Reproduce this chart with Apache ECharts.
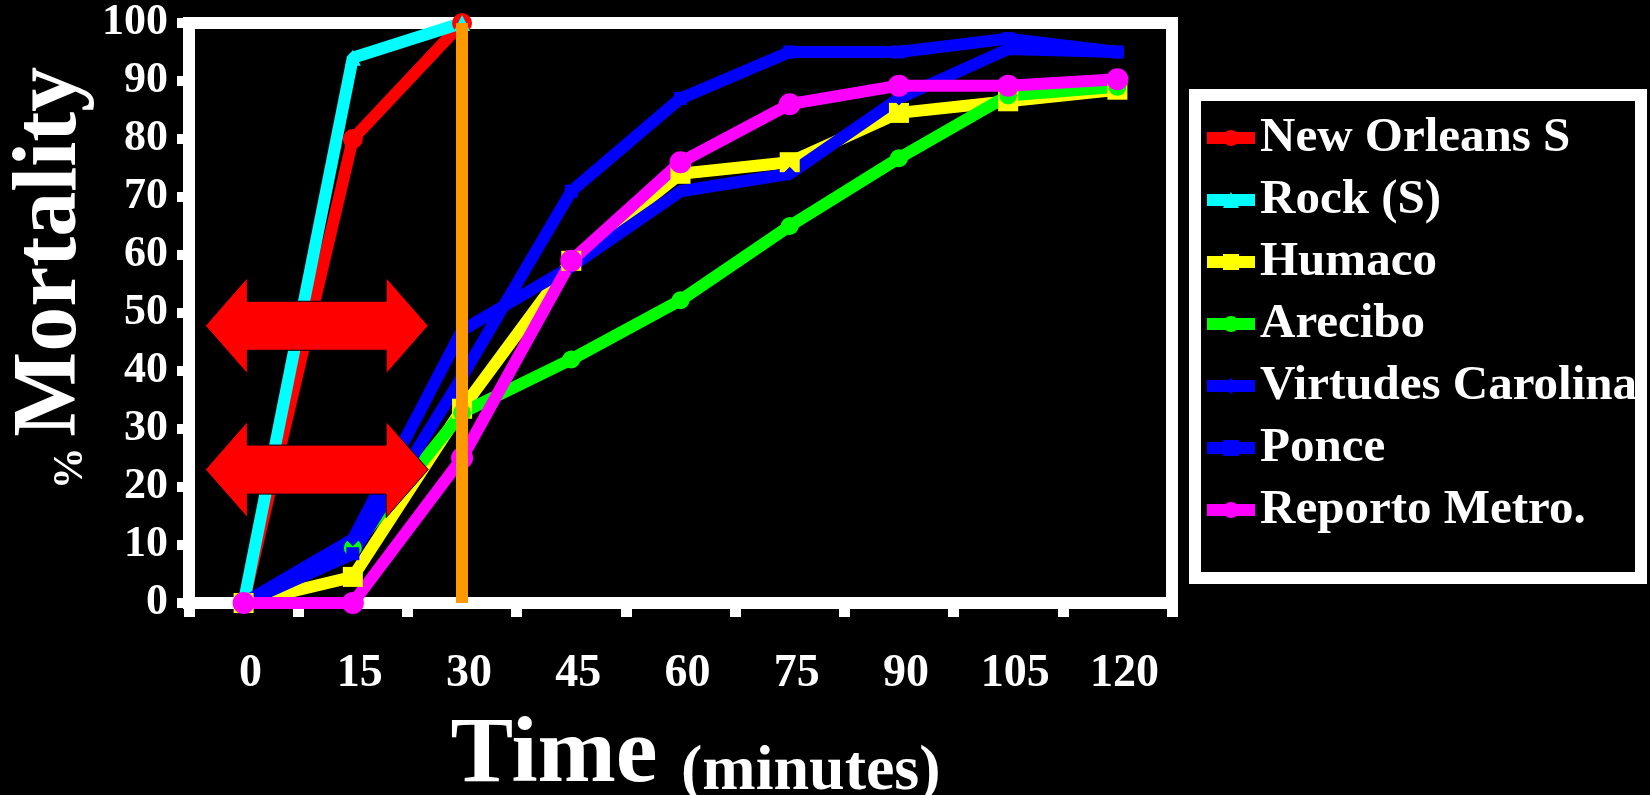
<!DOCTYPE html>
<html lang="en">
<head>
    <meta charset="UTF-8">
    <title>% Mortality vs Time</title>
    <script src="https://cdn.jsdelivr.net/npm/echarts/dist/echarts.min.js"></script>
    <style>
        html, body { margin: 0; padding: 0; background: #000; }
    </style>
</head>
<body>
<div id="main" style="width: 1650px;height:795px;"></div>

<script type="text/javascript">
    // time points (minutes)
    var times = ['0', '15', '30', '45', '60', '75', '90', '105', '120'];

    // % mortality per strain
    var newOrleans = [0, 80, 100];
    var rock = [0, 94, 100];
    var humaco = [0, 4.5, 33.5, 59, 74, 76, 84.5, 86.5, 88.5];
    var arecibo = [0, 9.5, 32.8, 42, 52.2, 65, 76.7, 87.5, 89];
    var virtudes = [0, 11, 47, 58, 71, 74, 87, 95.5, 95];
    var ponce = [0, 8.5, 39, 71, 87, 95, 95, 97.3, 95];
    var reporto = [0, 0, 25, 59, 76, 86, 89.2, 89.2, 90.3];

    var names = ['New Orleans S', 'Rock (S)', 'Humaco', 'Arecibo', 'Virtudes Carolina', 'Ponce', 'Reporto Metro.'];

    // vertical marker at 30 min, red double arrows (y level in %, x span in category index)
    var cutoff = '30';
    var arrowLevels = [47.8, 23];
    var arrowSpan = [-0.35, 1.69];

    var serif = "'Liberation Serif', 'Times New Roman', serif";

    var myChart = echarts.init(document.getElementById('main'));

    function line(name, data, color, symbol, size) {
        return {
            name: name,
            type: 'line',
            data: data,
            symbol: symbol,
            symbolSize: size,
            showSymbol: true,
            lineStyle: { color: color, width: 12 },
            itemStyle: { color: color },
            animation: false
        };
    }

    var series = [
        line(names[0], newOrleans, '#FF0000', 'circle', 20),
        line(names[1], rock, '#00FFFF', 'triangle', 16),
        line(names[2], humaco, '#FFFF00', 'rect', 20),
        line(names[3], arecibo, '#00FF00', 'circle', 18),
        line(names[4], virtudes, '#0000FF', 'diamond', 14),
        line(names[5], ponce, '#0000FF', 'rect', 13),
        line(names[6], reporto, '#FF00FF', 'circle', 22)
    ];
    series[6].markLine = {
        silent: true,
        symbol: 'none',
        label: { show: false },
        lineStyle: { color: '#FF9900', width: 12, type: 'solid' },
        data: [{ xAxis: cutoff }]
    };

    var option = {
        backgroundColor: '#000',
        animation: false,
        grid: {
            left: 189,
            right: 478,
            top: 23,
            bottom: 192,
            containLabel: false,
            outerBoundsMode: 'none',
            show: true,
            borderColor: '#fff',
            borderWidth: 12,
            backgroundColor: 'transparent'
        },
        legend: {
            orient: 'vertical',
            left: 1201,
            top: 113,
            padding: 0,
            itemWidth: 48,
            itemHeight: 20,
            itemGap: 12,
            lineStyle: { width: 12 },
            textStyle: {
                color: '#fff',
                fontFamily: serif,
                fontWeight: 'bold',
                fontSize: 49,
                lineHeight: 50
            },
            data: names
        },
        xAxis: {
            type: 'category',
            data: times,
            boundaryGap: true,
            axisLine: { show: false },
            axisTick: {
                show: true,
                inside: false,
                length: 14,
                lineStyle: { color: '#fff', width: 11 }
            },
            axisLabel: {
                interval: 0,
                color: '#fff',
                fontFamily: serif,
                fontWeight: 'bold',
                fontSize: 46,
                margin: 48,
                padding: [0, 0, 0, 14]
            },
            splitLine: { show: false },
            name: '{big|Time }{small|(minutes)}',
            nameLocation: 'middle',
            nameGap: 107,
            nameTextStyle: {
                color: '#fff',
                padding: [0, 0, 0, 30],
                rich: {
                    big: { color: '#fff', fontFamily: serif, fontWeight: 'bold', fontSize: 94, lineHeight: 94, verticalAlign: 'bottom' },
                    small: { color: '#fff', fontFamily: serif, fontWeight: 'bold', fontSize: 64, lineHeight: 64, verticalAlign: 'bottom' }
                }
            }
        },
        yAxis: {
            type: 'value',
            min: 0,
            max: 100,
            interval: 10,
            axisLine: { show: false },
            axisTick: {
                show: true,
                length: 12,
                lineStyle: { color: '#fff', width: 10 }
            },
            axisLabel: {
                color: '#fff',
                fontFamily: serif,
                fontWeight: 'bold',
                fontSize: 44,
                margin: 21
            },
            splitLine: { show: false },
            name: '{pct|% }{big|Mortality}',
            nameLocation: 'middle',
            nameRotate: 90,
            nameGap: 92,
            nameMoveOverlap: false,
            nameTextStyle: {
                color: '#fff',
                padding: [0, 0, 0, 70],
                rich: {
                    pct: { color: '#fff', fontFamily: serif, fontWeight: 'bold', fontSize: 42, lineHeight: 42, verticalAlign: 'middle', padding: [38, 0, 0, 0] },
                    big: { color: '#fff', fontFamily: serif, fontWeight: 'bold', fontSize: 90, lineHeight: 90, verticalAlign: 'middle' }
                }
            }
        },
        series: series
    };

    myChart.setOption(option);

    // legend frame + arrows, positioned from the chart's own axes
    var p0 = myChart.convertToPixel({ xAxisIndex: 0 }, times[0]);
    var p1 = myChart.convertToPixel({ xAxisIndex: 0 }, times[1]);
    var step = p1 - p0;
    var x0 = p0 + arrowSpan[0] * step;
    var x1 = p0 + arrowSpan[1] * step;
    var hl = 42, hh = 48, sh = 24.5;

    var graphics = [{
        type: 'rect',
        z: 1,
        shape: { x: 1195, y: 95, width: 446, height: 483 },
        style: { fill: '#000', stroke: '#fff', lineWidth: 12 }
    }];
    for (var i = 0; i < arrowLevels.length; i++) {
        var cy = myChart.convertToPixel({ yAxisIndex: 0 }, arrowLevels[i]);
        graphics.push({
            type: 'polygon',
            z: 10,
            shape: {
                points: [
                    [x0, cy], [x0 + hl, cy - hh], [x0 + hl, cy - sh], [x1 - hl, cy - sh], [x1 - hl, cy - hh],
                    [x1, cy], [x1 - hl, cy + hh], [x1 - hl, cy + sh], [x0 + hl, cy + sh], [x0 + hl, cy + hh]
                ]
            },
            style: { fill: '#FF0000', stroke: '#000', lineWidth: 1 }
        });
    }
    myChart.setOption({ graphic: graphics });
</script>
</body>
</html>
